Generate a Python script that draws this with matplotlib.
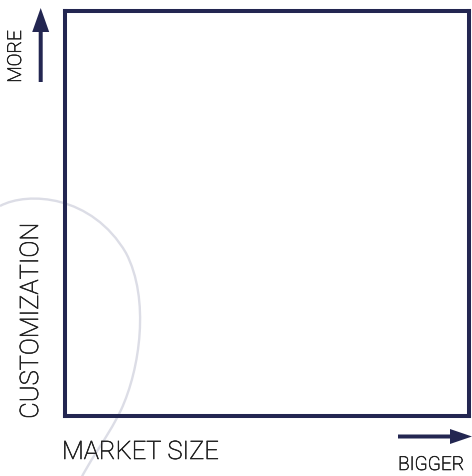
import matplotlib
matplotlib.use("Agg")
import matplotlib.pyplot as plt
import matplotlib.patheffects as pe
from matplotlib.path import Path
from matplotlib.patches import PathPatch

# labels
x_label = "MARKET SIZE"
y_label = "CUSTOMIZATION"
x_hint = "BIGGER"
y_hint = "MORE"

# decorative swoosh: bezier anchor/control points (pixel coords)
swoosh_pts = [(0, 207), (28, 192), (92, 196), (126, 254),
              (150, 300), (140, 370), (121, 411),
              (106, 442), (88, 462), (76, 490)]
swoosh_codes = [Path.MOVETO] + [Path.CURVE4] * 9

navy = "#232651"
text_col = "#222222"
W, H = 472, 477

plt.rcParams["font.family"] = ["Roboto", "DejaVu Sans"]

fig = plt.figure(figsize=(W / 100, H / 100), dpi=100)

# background layer in pixel units
bg = fig.add_axes([0, 0, 1, 1])
bg.set_xlim(0, W)
bg.set_ylim(H, 0)
bg.axis("off")
bg.add_patch(PathPatch(Path(swoosh_pts, swoosh_codes), fill=False,
                       edgecolor="#dcdde6", lw=1.7, zorder=1))

# the empty box
ax = fig.add_axes([65 / W, 1 - 416.5 / H, (469 - 65) / W, (416.5 - 11.5) / H])
ax.patch.set_alpha(0)
ax.set_xticks([])
ax.set_yticks([])
for s in ax.spines.values():
    s.set_color(navy)
    s.set_linewidth(2.9)

# arrows
bg.arrow(398, 437.5, 74, 0, width=4, head_width=15, head_length=22,
         length_includes_head=True, color=navy, lw=0, zorder=3)
bg.arrow(40.7, 83, 0, -74, width=4, head_width=17, head_length=24,
         length_includes_head=True, color=navy, lw=0, zorder=3)

# texts, light weight thickened a touch
thick = [pe.withStroke(linewidth=0.45, foreground=text_col)]
kw = dict(fontweight="light", color=text_col, path_effects=thick)
bg.text(62, 453, x_label, fontsize=18.3, ha="left", va="center", **kw)
bg.text(398, 466, x_hint, fontsize=13.8, ha="left", va="center", **kw)
bg.text(31, 322, y_label, fontsize=18.3, ha="center", va="center",
        rotation=90, **kw)
bg.text(16, 57.5, y_hint, fontsize=13.8, ha="center", va="center",
        rotation=90, **kw)

fig.savefig("out.png", dpi=100)
